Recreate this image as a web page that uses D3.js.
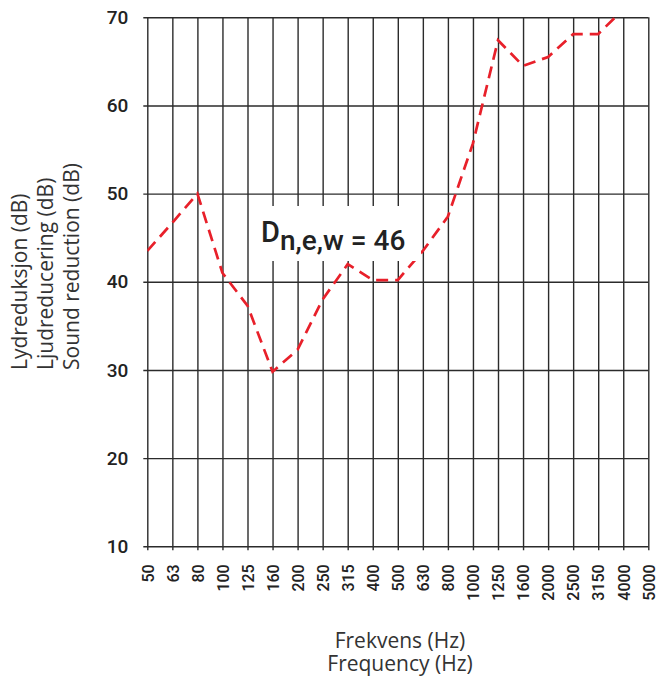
<!DOCTYPE html>
<html>
<head>
<meta charset="utf-8">
<script src="https://cdn.jsdelivr.net/npm/d3@7"></script>
<style>
  body { margin: 0; background: #fff; }
  svg { display: block; }
</style>
</head>
<body>
<svg width="659" height="679"></svg>
<script>
// frequency bands (Hz) and measured sound reduction (dB)
const frequencies = ['50', '63', '80', '100', '125', '160', '200', '250', '315', '400', '500',
    '630', '800', '1000', '1250', '1600', '2000', '2500', '3150', '4000', '5000']
const reduction = [43.5, 46.7, 50, 41, 37.3, 29.8, 32.3, 38, 42, 40.2, 40.2,
    43.5, 47.4, 55.7, 67.4, 64.5, 65.5, 68.1, 68.1, 70.9]
const yTicks = [10, 20, 30, 40, 50, 60, 70]
const yTitle = ['Lydreduksjon (dB)', 'Ljudreducering (dB)', 'Sound reduction (dB)']
const xTitle = ['Frekvens (Hz)', 'Frequency (Hz)']
const ratingLabel = {main: 'D', sub: 'n,e,w', rest: ' = 46'}

const plot = {left: 147.3, right: 648.3, top: 17.3, bottom: 546.3}
const svg = d3.select('svg')

const x = d3.scalePoint()
    .domain(frequencies)
    .range([plot.left, plot.right])
const y = d3.scaleLinear()
    .domain([10, 70])
    .range([plot.bottom, plot.top])

const gridColor = '#2b2b2b'
const tickFont = 'Roboto, "DejaVu Sans", sans-serif'

// vertical grid + bottom ticks
const xAxis = svg.append('g')
    .attr('transform', `translate(0,${plot.bottom + 4})`)
    .call(d3.axisBottom(x).tickSize(-(plot.bottom - plot.top + 4)).tickPadding(0))
xAxis.select('.domain').remove()
xAxis.selectAll('.tick line').attr('stroke', gridColor).attr('stroke-width', 1.4)
xAxis.selectAll('.tick text')
    .attr('transform', 'rotate(-90)')
    .attr('x', -14)
    .attr('y', 0)
    .attr('dy', '0.36em')
    .attr('text-anchor', 'end')
    .style('font-family', tickFont)
    .style('font-weight', 500)
    .style('font-size', '16px')
    .style('fill', '#222')

// horizontal grid + left ticks
const yAxis = svg.append('g')
    .attr('transform', `translate(${plot.left - 4},0)`)
    .call(d3.axisLeft(y).tickValues(yTicks).tickSize(-(plot.right - plot.left + 4)).tickPadding(15))
yAxis.select('.domain').remove()
yAxis.selectAll('.tick line').attr('stroke', gridColor).attr('stroke-width', 1.4)
yAxis.selectAll('.tick text')
    .style('font-family', tickFont)
    .style('font-weight', 500)
    .style('font-size', '19px')
    .style('fill', '#222')

// measured curve
svg.append('clipPath').attr('id', 'plotclip')
    .append('rect')
    .attr('x', plot.left).attr('y', plot.top)
    .attr('width', plot.right - plot.left).attr('height', plot.bottom - plot.top)

const line = d3.line()
    .x((d, i) => x(frequencies[i]))
    .y(d => y(d))

svg.append('path')
    .datum(reduction)
    .attr('clip-path', 'url(#plotclip)')
    .attr('d', line)
    .attr('fill', 'none')
    .attr('stroke', '#e8202a')
    .attr('stroke-width', 2.7)
    .attr('stroke-dasharray', '12,7')

// rating label
svg.append('rect')
    .attr('x', 249).attr('y', 206)
    .attr('width', 172).attr('height', 55)
    .attr('fill', '#fff')
const lbl = svg.append('text')
    .attr('x', 261)
    .attr('y', 242)
    .style('font-family', tickFont)
    .style('font-weight', 500)
    .style('fill', '#222')
lbl.append('tspan').style('font-size', '29px').text(ratingLabel.main)
lbl.append('tspan').attr('dy', 8).style('font-size', '28px').text(ratingLabel.sub)
lbl.append('tspan').style('font-size', '28px').text(ratingLabel.rest)

// axis titles
const titleFont = '"Open Sans", "DejaVu Sans", sans-serif'
svg.append('text')
    .attr('text-anchor', 'middle')
    .style('font-family', titleFont)
    .style('font-size', '21px')
    .style('fill', '#333')
    .selectAll('tspan')
    .data(xTitle)
    .join('tspan')
    .attr('x', 400)
    .attr('y', (d, i) => 648 + i * 23)
    .text(d => d)

svg.append('text')
    .attr('transform', 'translate(0,370) rotate(-90)')
    .attr('text-anchor', 'start')
    .style('font-family', titleFont)
    .style('font-size', '21px')
    .style('fill', '#333')
    .selectAll('tspan')
    .data(yTitle)
    .join('tspan')
    .attr('x', 0)
    .attr('y', (d, i) => 27 + i * 26)
    .text(d => d)
</script>
</body>
</html>
